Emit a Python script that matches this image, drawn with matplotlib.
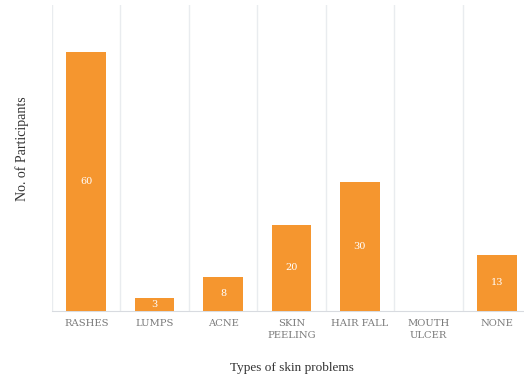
import numpy as np
import matplotlib.pyplot as plt

# data
categories = ['RASHES', 'LUMPS', 'ACNE', 'SKIN\nPEELING', 'HAIR FALL', 'MOUTH\nULCER', 'NONE']
participants = [60, 3, 8, 20, 30, 0, 13]

bar_color = '#F5962F'
grid_color = '#e9ecef'

fig = plt.figure(figsize=(5.24, 3.79), dpi=100)
ax = fig.add_axes([52 / 524, 1 - 311 / 379, 479 / 524, 306 / 379])

x = np.arange(len(categories))
bars = ax.bar(x, participants, width=0.58, color=bar_color, zorder=3)

# value labels in the middle of each bar
for xi, v in zip(x, participants):
    if v > 0:
        ax.text(xi, v / 2, str(v), ha='center', va='center', color='white',
                fontsize=7, family='DejaVu Serif', zorder=4)

ax.set_xlim(-0.5, len(categories) - 0.5)
ax.set_ylim(0, 71)

# vertical separators between categories
for b in np.arange(-0.5, len(categories), 1.0):
    ax.axvline(b, color=grid_color, lw=1.0, zorder=1)

for s in ['top', 'right', 'left']:
    ax.spines[s].set_visible(False)
ax.spines['bottom'].set_color('#d8dbe0')
ax.set_yticks([])
ax.set_xticks(x)
ax.set_xticklabels(categories, fontsize=7.2, color='#7a7a7a', family='DejaVu Serif',
                   linespacing=1.35)
ax.tick_params(axis='x', length=0, pad=6)

ax.set_xlabel('Types of skin problems', fontsize=9.5, color='#333333', family='Liberation Serif',
              labelpad=16)
ax.set_ylabel('No. of Participants', fontsize=10, color='#333333', family='Liberation Serif')
ax.yaxis.set_label_coords(-0.048, 0.53)

fig.savefig('out.png', dpi=100)
